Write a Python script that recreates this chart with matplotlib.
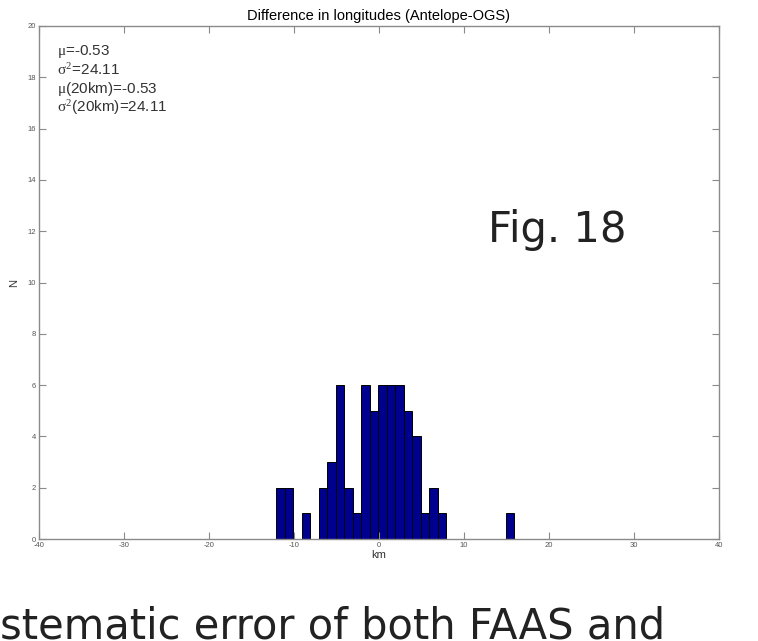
import matplotlib.pyplot as plt

# histogram of longitude differences (km), bin centers and counts
bin_centers = [-11.6, -10.6, -9.6, -8.6, -7.6, -6.6, -5.6, -4.6, -3.6, -2.6,
               -1.6, -0.6, 0.4, 1.4, 2.4, 3.4, 4.4, 5.4, 6.4, 7.4,
               8.4, 9.4, 10.4, 11.4, 12.4, 13.4, 14.4, 15.4]
counts = [2, 2, 0, 1, 0, 2, 3, 6, 2, 1,
          6, 5, 6, 6, 6, 5, 4, 1, 2, 1,
          0, 0, 0, 0, 0, 0, 0, 1]

x_ticks = [-40, -30, -20, -10, 0, 10, 20, 30, 40]
y_ticks = [0, 2, 4, 6, 8, 10, 12, 14, 16, 18, 20]

stats = ['$\\mu$=-0.53', '$\\sigma^2$=24.11',
         '$\\mu$(20km)=-0.53', '$\\sigma^2$(20km)=24.11']

plt.rcParams['font.family'] = ['Liberation Sans', 'DejaVu Sans']
plt.rcParams['mathtext.fontset'] = 'custom'
plt.rcParams['mathtext.rm'] = 'Liberation Serif'
plt.rcParams['mathtext.it'] = 'Liberation Serif'
plt.rcParams['axes.unicode_minus'] = False

fig = plt.figure(figsize=(7.58, 6.41), dpi=100)
ax = fig.add_axes([0.0515, 0.159, 0.897, 0.8005])

ax.bar(bin_centers, counts, width=1.0, color='#00008f', edgecolor='black',
       linewidth=0.7)

ax.set_xlim(-40, 40)
ax.set_ylim(0, 20)
ax.set_xticks(x_ticks)
ax.set_yticks(y_ticks)
ax.tick_params(direction='in', length=5, width=0.8, top=True, right=True,
               labelsize=5.5, colors='#8a8a8a', labelcolor='#555555', pad=2)
for s in ax.spines.values():
    s.set_color('#8a8a8a')
    s.set_linewidth(1.0)

ax.set_title('Difference in longitudes (Antelope-OGS)', fontsize=10.5, pad=4)
ax.set_xlabel('km', fontsize=8, labelpad=1, color='#333333')
ax.set_ylabel('N', fontsize=8, labelpad=6, color='#333333')

for i, line in enumerate(stats):
    ax.text(0.027, 0.95 - i * 0.0365, line, transform=ax.transAxes,
            fontsize=11, color='#333333', va='center')

ax.text(0.661, 0.579, 'Fig. 18', transform=ax.transAxes, fontsize=30,
        family=['DejaVu Sans'], color='#222222', va='baseline')

fig.text(0.0, 0.004, 'stematic error of both FAAS and', fontsize=30,
         family=['DejaVu Sans'], color='#222222', va='baseline')

fig.savefig('out.png', dpi=100)
